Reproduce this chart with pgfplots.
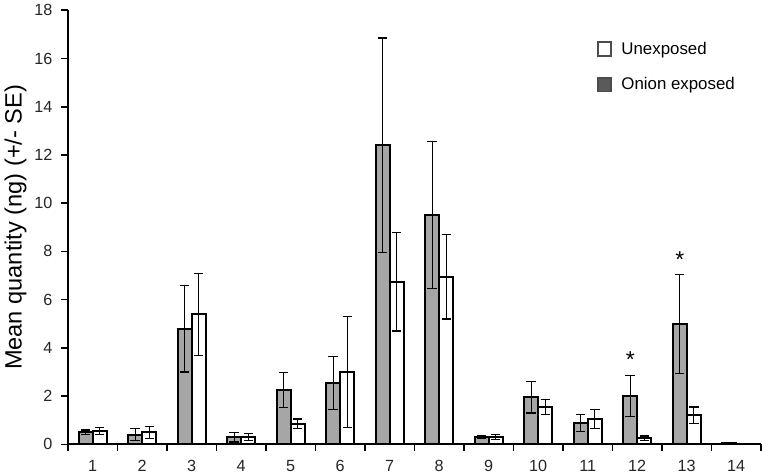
\documentclass[border=0pt]{standalone}
\usepackage{pgfplots}
\usepackage{pgfplotstable}
\usepackage{fontspec}
\setmainfont{Liberation Sans}
\pgfplotsset{compat=1.18}
\definecolor{BarGray}{RGB}{166,166,166}
\definecolor{LegGray}{RGB}{90,90,90}

% onion exposed
\pgfplotstableread{
x y err
1 0.50 0.10
2 0.40 0.25
3 4.80 1.80
4 0.30 0.20
5 2.25 0.72
6 2.55 1.10
7 12.40 4.45
8 9.50 3.05
9 0.30 0.07
10 1.95 0.65
11 0.90 0.35
12 2.00 0.85
13 5.00 2.05
14 0.05 0.00
}\onion
% unexposed
\pgfplotstableread{
x y err
1 0.55 0.15
2 0.50 0.25
3 5.40 1.70
4 0.30 0.15
5 0.85 0.20
6 3.00 2.30
7 6.75 2.05
8 6.95 1.75
9 0.30 0.10
10 1.55 0.30
11 1.05 0.40
12 0.25 0.10
13 1.20 0.35
14 0.03 0.00
}\unexp

\begin{document}
\begin{tikzpicture}
\begin{axis}[
    scale only axis,
    width=514pt, height=322pt,
    xmin=0.5, xmax=14.5, ymin=0, ymax=18,
    axis x line=bottom, axis y line=left,
    axis line style={-, line width=1.5pt},
    xtick={1,...,14},
    minor xtick={0.5,1.5,...,14.5},
    ytick={0,2,...,18},
    tick align=outside,
    major x tick style={draw=none},
    minor tick length=5pt,
    major tick length=5pt,
    every tick/.style={black, line width=1.2pt},
    tick label style={font=\fontsize{12}{14}\selectfont, text=black!85},
    xticklabel style={yshift=-3pt},
    yticklabel style={xshift=-3pt},
    /pgf/number format/assume math mode=true,
    ylabel={Mean quantity (ng) (+/- SE)},
    ylabel style={font=\fontsize{17.5}{20}\selectfont, yshift=-1pt},
    ybar, bar width=0.285,
    legend style={draw=none, at={(0.757,0.94)}, anchor=north west,
      font=\fontsize{12.5}{15}\selectfont, row sep=12pt, column sep=5pt, fill=none},
    legend cell align=left,
    legend image code/.code={\draw[#1] (0pt,-5pt) rectangle (10pt,5pt);},
    clip=false,
]
\addplot[forget plot, bar shift=-0.1425, fill=BarGray, draw=black, line width=1.5pt,
  error bars/.cd, y dir=both, y explicit,
  error bar style={line width=0.9pt, black},
  error mark options={rotate=90, mark size=3.5pt, line width=0.9pt}]
  table[x=x, y=y, y error=err]{\onion};
\addplot[forget plot, bar shift=0.1425, fill=white, draw=black, line width=1.5pt,
  error bars/.cd, y dir=both, y explicit,
  error bar style={line width=0.9pt, black},
  error mark options={rotate=90, mark size=3.5pt, line width=0.9pt}]
  table[x=x, y=y, y error=err]{\unexp};
\addlegendimage{fill=white, draw=black!70, line width=1.2pt}
\addlegendentry{Unexposed}
\addlegendimage{fill=LegGray, draw=black!70, line width=1.2pt}
\addlegendentry{Onion exposed}
\node[font=\fontsize{17}{20}\selectfont] at (axis cs:11.86,3.5) {*};
\node[font=\fontsize{17}{20}\selectfont] at (axis cs:12.86,7.65) {*};
\end{axis}
\end{tikzpicture}
\end{document}
